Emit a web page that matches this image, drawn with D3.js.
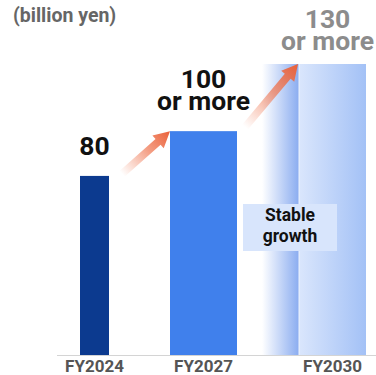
<!DOCTYPE html>
<html>
<head>
<meta charset="utf-8">
<script src="https://cdn.jsdelivr.net/npm/d3@7"></script>
<style>
  html, body { margin: 0; padding: 0; background: #fff; }
  svg { display: block; font-family: Roboto, "Noto Sans", sans-serif; }
</style>
</head>
<body>
<svg id="chart" width="376" height="375"></svg>
<script>
// Revenue targets (billion yen)
const categories = ["FY2024", "FY2027", "FY2030"];
const values = [80, 100, 130];
const valueLabels = [["80"], ["100", "or more"], ["130", "or more"]];
const unitLabel = "(billion yen)";
const noteLines = ["Stable", "growth"];

const svg = d3.select("#chart");
const baseY = 355;

const y = d3.scaleLinear().domain([0, 130]).range([baseY, 64]);
const xCenter = d3.scaleOrdinal().domain(categories).range([94.5, 203.5, 332.5]);
const barWidth = d3.scaleOrdinal().domain(categories).range([29, 67, 67]);
const barFill = d3.scaleOrdinal().domain(categories).range(["#0c3a8f", "#4080ec", "url(#gFuture)"]);
const labelColor = d3.scaleOrdinal().domain(categories).range(["#111", "#111", "#8c8c8c"]);
const labelGap = d3.scaleOrdinal().domain(categories).range([21, 21, 14]);
const labelShift = d3.scaleOrdinal().domain(categories).range([0, 0, -5]);

const defs = svg.append("defs");
const gFuture = defs.append("linearGradient").attr("id", "gFuture");
gFuture.append("stop").attr("offset", "0%").attr("stop-color", "#dae6fc");
gFuture.append("stop").attr("offset", "100%").attr("stop-color", "#a3c1f6");
const gLead = defs.append("linearGradient").attr("id", "gLead");
gLead.append("stop").attr("offset", "0%").attr("stop-color", "#ffffff");
gLead.append("stop").attr("offset", "100%").attr("stop-color", "#8aacf0");

const data = categories.map((c, i) => ({ c, v: values[i], label: valueLabels[i] }));
const left = d => xCenter(d.c) - barWidth(d.c) / 2;
const right = d => xCenter(d.c) + barWidth(d.c) / 2;

// Soft lead-in glow before the projected bar
const last = data[2];
svg.append("rect")
  .attr("x", left(last) - 37).attr("y", y(last.v))
  .attr("width", 37).attr("height", baseY - y(last.v))
  .attr("fill", "url(#gLead)");

// Bars
svg.selectAll("rect.bar").data(data).join("rect")
  .attr("class", "bar")
  .attr("x", left).attr("y", d => y(d.v))
  .attr("width", d => barWidth(d.c))
  .attr("height", d => baseY - y(d.v))
  .attr("fill", d => barFill(d.c));
svg.append("line")
  .attr("x1", left(last)).attr("x2", left(last))
  .attr("y1", y(last.v)).attr("y2", baseY)
  .attr("stroke", "#eef3fe").attr("stroke-width", 1);

// Baseline
svg.append("line")
  .attr("x1", 57).attr("x2", 376).attr("y1", baseY + 0.5).attr("y2", baseY + 0.5)
  .attr("stroke", "#d4d4d4").attr("stroke-width", 1);

// Category labels
svg.selectAll("text.cat").data(data).join("text")
  .attr("class", "cat")
  .attr("x", d => xCenter(d.c)).attr("y", 372)
  .attr("text-anchor", "middle")
  .attr("font-size", 17).attr("font-weight", 700)
  .attr("fill", "#555")
  .text(d => d.c);

// Value labels above bars
data.forEach(d => {
  const lines = d.label;
  lines.forEach((s, i) => {
    svg.append("text")
      .attr("text-anchor", "middle")
      .attr("font-size", 26.5).attr("font-weight", 700)
      .attr("fill", labelColor(d.c))
      .attr("x", xCenter(d.c) + labelShift(d.c))
      .attr("y", y(d.v) - labelGap(d.c) - (lines.length - 1 - i) * 22.5)
      .text(s);
  });
});

// Unit label
svg.append("text")
  .attr("x", 13).attr("y", 22)
  .attr("font-size", 19.5).attr("font-weight", 700)
  .attr("fill", "#666")
  .text(unitLabel);

// Growth arrows between consecutive bars
function arrow(x0, y0, x1, y1, id) {
  const dx = x1 - x0, dy = y1 - y0;
  const len = Math.hypot(dx, dy);
  const ux = dx / len, uy = dy / len, px = -uy, py = ux;
  const headLen = 16, headHalf = 8.5, shaftHalf = 3.8;
  const bx = x1 - ux * headLen, by = y1 - uy * headLen;
  const pts = [
    [x0 + px * shaftHalf, y0 + py * shaftHalf],
    [bx + px * shaftHalf, by + py * shaftHalf],
    [bx + px * headHalf, by + py * headHalf],
    [x1, y1],
    [bx - px * headHalf, by - py * headHalf],
    [bx - px * shaftHalf, by - py * shaftHalf],
    [x0 - px * shaftHalf, y0 - py * shaftHalf]
  ];
  const g = defs.append("linearGradient").attr("id", id)
    .attr("gradientUnits", "userSpaceOnUse")
    .attr("x1", x0).attr("y1", y0).attr("x2", x1).attr("y2", y1);
  g.append("stop").attr("offset", "0%").attr("stop-color", "#f07a55").attr("stop-opacity", 0);
  g.append("stop").attr("offset", "55%").attr("stop-color", "#ef7550").attr("stop-opacity", 0.7);
  g.append("stop").attr("offset", "100%").attr("stop-color", "#ea6038").attr("stop-opacity", 1);
  svg.append("polygon")
    .attr("points", pts.map(p => p.join(",")).join(" "))
    .attr("fill", `url(#${id})`);
}
arrow(right(data[0]) + 13, y(data[0].v) - 2, left(data[1]), y(data[1].v), "gArrow1");
arrow(right(data[1]) + 8, y(data[1].v) - 4, left(data[2]) - 1, y(data[2].v), "gArrow2");

// Note box
const boxX = 243, boxY = 204, boxW = 94, boxH = 47;
svg.append("rect")
  .attr("x", boxX).attr("y", boxY).attr("width", boxW).attr("height", boxH)
  .attr("fill", "#d8e5fc");
noteLines.forEach((s, i) => {
  svg.append("text")
    .attr("text-anchor", "middle")
    .attr("font-size", 17.5).attr("font-weight", 700).attr("fill", "#111")
    .attr("x", boxX + boxW / 2).attr("y", boxY + 17 + i * 21)
    .text(s);
});
</script>
</body>
</html>
